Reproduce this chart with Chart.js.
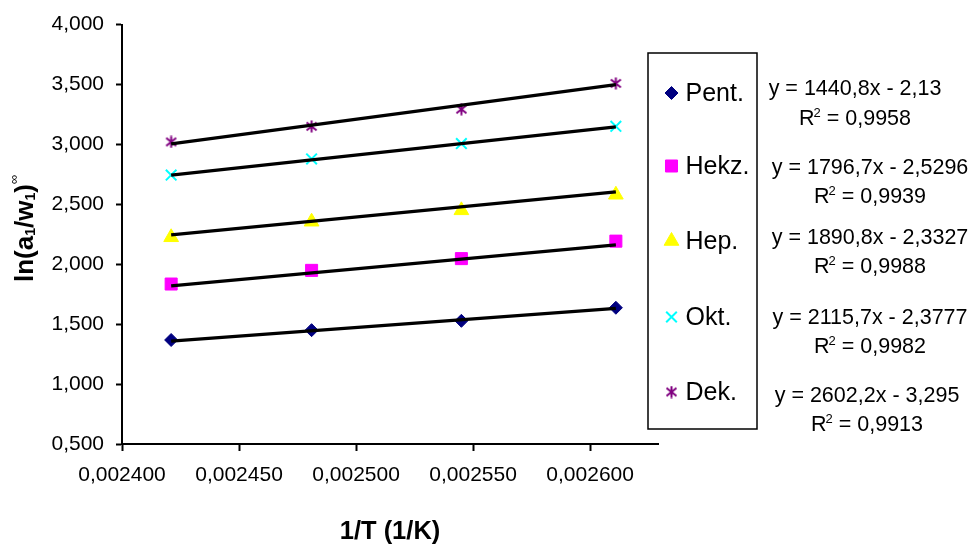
<!DOCTYPE html>
<html>
<head>
<meta charset="utf-8">
<title>ln(a1/w1) vs 1/T</title>
<script src="https://cdn.jsdelivr.net/npm/chart.js@4.4.1/dist/chart.umd.min.js"></script>
<style>
  html, body { margin: 0; padding: 0; background: #fff; }
  #wrap { width: 975px; height: 551px; }
</style>
</head>
<body>
<div id="wrap"><canvas id="chart" width="975" height="551"></canvas></div>
<script>
// 1/T for the four column temperatures
const invT = [0.002421, 0.002481, 0.002545, 0.002611];

const names = ["Pent.", "Hekz.", "Hep.", "Okt.", "Dek."];
const pent = [1.368, 1.450, 1.528, 1.637];
const hekz = [1.835, 1.949, 2.047, 2.193];
const hep = [2.225, 2.355, 2.450, 2.580];
const okt = [2.744, 2.879, 3.007, 3.151];
const dek = [3.021, 3.151, 3.294, 3.509];

// linear fits: y = slope * x + intercept
const slopes = [1440.8, 1796.7, 1890.8, 2115.7, 2602.2];
const intercepts = [-2.13, -2.5296, -2.3327, -2.3777, -3.295];
const rSquared = [0.9958, 0.9939, 0.9988, 0.9982, 0.9913];

const xTicks = [0.0024, 0.00245, 0.0025, 0.00255, 0.0026];
const yTicks = [0.5, 1.0, 1.5, 2.0, 2.5, 3.0, 3.5, 4.0];

const series = [pent, hekz, hep, okt, dek];

const FONT = "'Liberation Sans', Arial, sans-serif";
const comma = v => String(v).replace(".", ",");

// asterisk-style marker: an X with a vertical stroke through it
function starMarker(color) {
  const c = document.createElement("canvas");
  c.width = 13; c.height = 13;
  const g = c.getContext("2d");
  g.strokeStyle = color;
  g.lineWidth = 2;
  g.beginPath();
  g.moveTo(1.5, 2.5); g.lineTo(11.5, 10.5);
  g.moveTo(11.5, 2.5); g.lineTo(1.5, 10.5);
  g.moveTo(6.5, 0.5); g.lineTo(6.5, 12.5);
  g.stroke();
  return c;
}

const markers = [
  { pointStyle: "rectRot", radius: 6.5, fill: "#000080", stroke: "#000080", borderWidth: 1 },
  { pointStyle: "rect", radius: 8.5, fill: "#FF00FF", stroke: "#FF00FF", borderWidth: 1 },
  { pointStyle: "triangle", radius: 8.5, fill: "#FFFF00", stroke: "#FFFF00", borderWidth: 1 },
  { pointStyle: "crossRot", radius: 7.5, fill: "#00FFFF", stroke: "#00FFFF", borderWidth: 2 },
  { pointStyle: starMarker("#800080"), radius: 7, fill: "#800080", stroke: "#800080", borderWidth: 0 }
];

const datasets = [];
series.forEach((vals, i) => {
  const m = markers[i];
  datasets.push({
    label: names[i],
    data: vals.map((v, j) => ({ x: invT[j], y: v })),
    showLine: false,
    pointStyle: m.pointStyle,
    pointRadius: m.radius,
    pointBackgroundColor: m.fill,
    pointBorderColor: m.stroke,
    pointBorderWidth: m.borderWidth,
    order: 1
  });
});
// trendlines across the measured range
slopes.forEach((k, i) => {
  const x0 = invT[0], x1 = invT[invT.length - 1];
  datasets.push({
    label: names[i] + " fit",
    data: [{ x: x0, y: k * x0 + intercepts[i] }, { x: x1, y: k * x1 + intercepts[i] }],
    showLine: true,
    borderColor: "#000",
    borderWidth: 3.3,
    pointRadius: 0,
    order: 0
  });
});

// legend rows and equation label placement
const legendBox = { left: 648, top: 53, right: 757, bottom: 429 };
const legendRowY = [93, 166, 241, 317, 392];
const eqPos = [
  { x: 855, y1: 95, y2: 125 },
  { x: 870, y1: 174, y2: 203 },
  { x: 870, y1: 244, y2: 273 },
  { x: 870, y1: 324, y2: 353 },
  { x: 867, y1: 402, y2: 431 }
];

function drawRuns(ctx, runs, x, y) {
  runs.forEach(r => {
    ctx.font = r.font;
    ctx.fillText(r.t, x + (r.dx || 0), y + r.dy);
    x += ctx.measureText(r.t).width + (r.dx || 0);
  });
}

const overlay = {
  id: "overlay",
  afterDraw(chart) {
    const ctx = chart.ctx;
    ctx.save();
    ctx.fillStyle = "#000";
    ctx.textBaseline = "alphabetic";

    // legend box
    ctx.strokeStyle = "#000";
    ctx.lineWidth = 1.5;
    ctx.strokeRect(legendBox.left, legendBox.top, legendBox.right - legendBox.left, legendBox.bottom - legendBox.top);

    names.forEach((n, i) => {
      const m = markers[i];
      const y = legendRowY[i];
      ctx.fillStyle = m.fill;
      ctx.strokeStyle = m.stroke;
      ctx.lineWidth = m.borderWidth;
      Chart.helpers.drawPoint(ctx, { pointStyle: m.pointStyle, radius: m.radius, rotation: 0, borderWidth: m.borderWidth }, 671.5, y);
      ctx.fillStyle = "#000";
      ctx.textAlign = "left";
      ctx.font = "25px " + FONT;
      ctx.fillText(n, 685.5, y + 8);
    });

    // fit equations
    names.forEach((n, i) => {
      const p = eqPos[i];
      const eq = "y = " + comma(slopes[i]) + "x - " + comma(-intercepts[i]);
      ctx.textAlign = "center";
      ctx.font = "21.5px " + FONT;
      ctx.fillText(eq, p.x, p.y1);

      const main = "21.5px " + FONT, sup = "13px " + FONT;
      const tail = " = " + comma(rSquared[i]);
      ctx.font = main;
      const wR = ctx.measureText("R").width, wT = ctx.measureText(tail).width;
      ctx.font = sup;
      const w2 = ctx.measureText("2").width;
      const total = wR + w2 - 1 + wT;
      ctx.textAlign = "left";
      drawRuns(ctx, [
        { t: "R", font: main, dy: 0 },
        { t: "2", font: sup, dy: -8, dx: -1 },
        { t: tail, font: main, dy: 0 }
      ], p.x - total / 2, p.y2);
    });

    // x axis title
    ctx.textAlign = "center";
    ctx.font = "bold 25.5px " + FONT;
    ctx.fillText("1/T (1/K)", 390, 539);

    // y axis title, rotated, with sub/superscripts
    ctx.translate(33, 282);
    ctx.rotate(-Math.PI / 2);
    ctx.textAlign = "left";
    const b = "bold 26px " + FONT, s = "bold 14px " + FONT;
    drawRuns(ctx, [
      { t: "ln(a", font: b, dy: 0 },
      { t: "1", font: s, dy: 2 },
      { t: "/w", font: b, dy: 0 },
      { t: "1", font: s, dy: 2 },
      { t: ")", font: b, dy: 0 },
      { t: "\u221E", font: "13px " + FONT, dy: -15, dx: 0 }
    ], 0, 0);
    ctx.restore();
  }
};

const tickFont = { family: FONT, size: 21 };

new Chart(document.getElementById("chart"), {
  type: "scatter",
  data: { datasets },
  options: {
    responsive: false,
    animation: false,
    events: [],
    layout: { padding: { top: 14, right: 317, left: 0, bottom: 0 } },
    plugins: { legend: { display: false }, tooltip: { enabled: false } },
    scales: {
      x: {
        type: "linear",
        min: 0.0024,
        max: 0.002629,
        afterBuildTicks: s => { s.ticks = xTicks.map(v => ({ value: v })); },
        afterFit: s => { s.height = 107; },
        ticks: { callback: v => v.toFixed(6).replace(".", ","), font: tickFont, color: "#000", padding: 12, maxRotation: 0, autoSkip: false },
        grid: { drawOnChartArea: false, tickLength: 7, tickWidth: 2, tickColor: "#000" },
        border: { color: "#000", width: 2 }
      },
      y: {
        type: "linear",
        min: 0.5,
        max: 4.0,
        afterBuildTicks: s => { s.ticks = yTicks.map(v => ({ value: v })); },
        afterFit: s => { s.width = 122; },
        ticks: { callback: v => v.toFixed(3).replace(".", ","), font: tickFont, color: "#000", padding: 12, autoSkip: false },
        grid: { drawOnChartArea: false, tickLength: 6, tickWidth: 2, tickColor: "#000" },
        border: { color: "#000", width: 2 }
      }
    }
  },
  plugins: [overlay]
});
</script>
</body>
</html>
